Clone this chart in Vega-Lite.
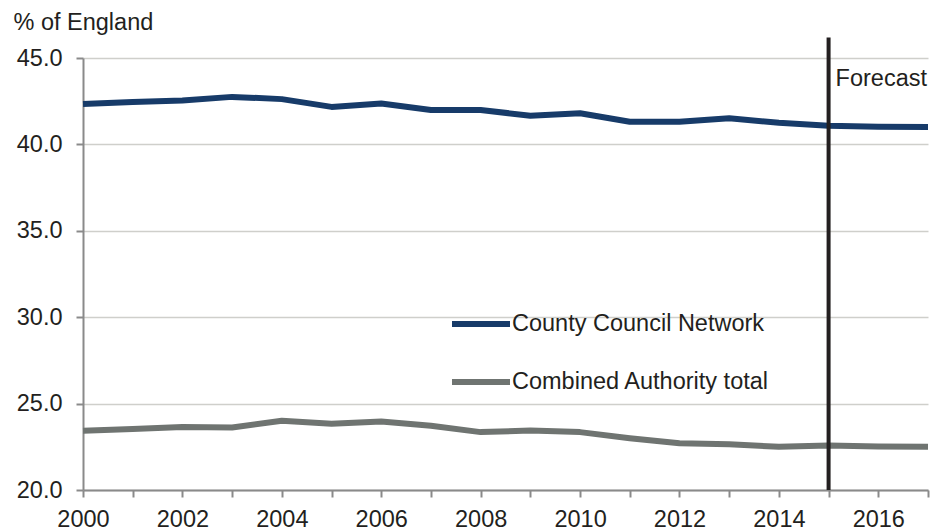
{
  "$schema": "https://vega.github.io/schema/vega-lite/v6.json",
  "width": 845,
  "height": 432,
  "autosize": "none",
  "padding": {"left": 83, "top": 58, "right": 9, "bottom": 40},
  "background": "white",
  "config": {
    "view": {"stroke": null},
    "font": "Liberation Sans",
    "text": {"font": "Liberation Sans"}
  },
  "layer": [
    {
      "data": {
        "values": [
          {"year": 2000, "series": "County Council Network", "value": 42.34},
          {"year": 2001, "series": "County Council Network", "value": 42.46},
          {"year": 2002, "series": "County Council Network", "value": 42.54},
          {"year": 2003, "series": "County Council Network", "value": 42.75},
          {"year": 2004, "series": "County Council Network", "value": 42.62},
          {"year": 2005, "series": "County Council Network", "value": 42.17},
          {"year": 2006, "series": "County Council Network", "value": 42.37},
          {"year": 2007, "series": "County Council Network", "value": 41.99},
          {"year": 2008, "series": "County Council Network", "value": 41.99},
          {"year": 2009, "series": "County Council Network", "value": 41.66},
          {"year": 2010, "series": "County Council Network", "value": 41.8},
          {"year": 2011, "series": "County Council Network", "value": 41.31},
          {"year": 2012, "series": "County Council Network", "value": 41.31},
          {"year": 2013, "series": "County Council Network", "value": 41.51},
          {"year": 2014, "series": "County Council Network", "value": 41.25},
          {"year": 2015, "series": "County Council Network", "value": 41.08},
          {"year": 2016, "series": "County Council Network", "value": 41.02},
          {"year": 2017, "series": "County Council Network", "value": 41.0},
          {"year": 2000, "series": "Combined Authority total", "value": 23.43},
          {"year": 2001, "series": "Combined Authority total", "value": 23.53},
          {"year": 2002, "series": "Combined Authority total", "value": 23.64},
          {"year": 2003, "series": "Combined Authority total", "value": 23.62},
          {"year": 2004, "series": "Combined Authority total", "value": 24.01},
          {"year": 2005, "series": "Combined Authority total", "value": 23.84},
          {"year": 2006, "series": "Combined Authority total", "value": 23.97},
          {"year": 2007, "series": "Combined Authority total", "value": 23.72},
          {"year": 2008, "series": "Combined Authority total", "value": 23.35},
          {"year": 2009, "series": "Combined Authority total", "value": 23.44},
          {"year": 2010, "series": "Combined Authority total", "value": 23.35},
          {"year": 2011, "series": "Combined Authority total", "value": 23.0},
          {"year": 2012, "series": "Combined Authority total", "value": 22.71},
          {"year": 2013, "series": "Combined Authority total", "value": 22.65},
          {"year": 2014, "series": "Combined Authority total", "value": 22.5},
          {"year": 2015, "series": "Combined Authority total", "value": 22.57},
          {"year": 2016, "series": "Combined Authority total", "value": 22.52},
          {"year": 2017, "series": "Combined Authority total", "value": 22.5}
        ]
      },
      "mark": {"type": "line", "strokeWidth": 6, "strokeJoin": "round", "strokeCap": "butt"},
      "encoding": {
        "x": {
          "field": "year",
          "type": "quantitative",
          "scale": {"domain": [2000, 2017], "nice": false, "zero": false},
          "axis": {
            "values": [2000, 2001, 2002, 2003, 2004, 2005, 2006, 2007, 2008, 2009, 2010, 2011, 2012, 2013, 2014, 2015, 2016, 2017],
            "labelExpr": "datum.value % 2 == 0 ? format(datum.value, 'd') : ''",
            "grid": false,
            "title": null,
            "domainColor": "#8a8a8a",
            "domainWidth": 2,
            "tickColor": "#8a8a8a",
            "tickWidth": 2,
            "tickSize": 7,
            "labelFont": "Liberation Sans",
            "labelFontSize": 23.5,
            "labelColor": "#231f20",
            "labelPadding": 10,
            "labelFlush": false,
            "labelOverlap": false
          }
        },
        "y": {
          "field": "value",
          "type": "quantitative",
          "scale": {"domain": [20, 45], "nice": false, "zero": false},
          "axis": {
            "values": [20, 25, 30, 35, 40, 45],
            "format": ".1f",
            "grid": true,
            "gridColor": "#cfcfcb",
            "gridWidth": 1.5,
            "domainColor": "#8a8a8a",
            "domainWidth": 2,
            "tickColor": "#8a8a8a",
            "tickWidth": 2,
            "tickSize": 7,
            "labelFont": "Liberation Sans",
            "labelFontSize": 23.5,
            "labelColor": "#231f20",
            "labelPadding": 14,
            "title": "% of England",
            "titleFont": "Liberation Sans",
            "titleFontSize": 23.5,
            "titleFontWeight": "normal",
            "titleColor": "#231f20",
            "titleAngle": 0,
            "titleAlign": "left",
            "titleBaseline": "alphabetic",
            "titleX": -70,
            "titleY": -29
          }
        },
        "color": {
          "field": "series",
          "type": "nominal",
          "scale": {
            "domain": ["County Council Network", "Combined Authority total"],
            "range": ["#173b69", "#6f7471"]
          },
          "legend": {
            "title": null,
            "orient": "none",
            "legendX": 366,
            "legendY": 234,
            "padding": 0,
            "symbolType": "stroke",
            "symbolSize": 3364,
            "symbolStrokeWidth": 6,
            "labelFont": "Liberation Sans",
            "labelFontSize": 23.5,
            "labelColor": "#231f20",
            "labelOffset": -1,
            "labelLimit": 0,
            "rowPadding": 14
          }
        }
      }
    },
    {
      "data": {"values": [{"year": 2015, "bottom": 20, "top": 46.18, "label": "Forecast", "labelY": 43.4}]},
      "layer": [
        {
          "mark": {"type": "rule", "strokeWidth": 4, "color": "#231f20"},
          "encoding": {
            "x": {"field": "year", "type": "quantitative"},
            "y": {"field": "bottom", "type": "quantitative"},
            "y2": {"field": "top"}
          }
        },
        {
          "mark": {"type": "text", "align": "left", "baseline": "alphabetic", "dx": 7, "fontSize": 23.5, "font": "Liberation Sans", "color": "#231f20"},
          "encoding": {
            "x": {"field": "year", "type": "quantitative"},
            "y": {"field": "labelY", "type": "quantitative"},
            "text": {"field": "label"}
          }
        }
      ]
    }
  ]
}
